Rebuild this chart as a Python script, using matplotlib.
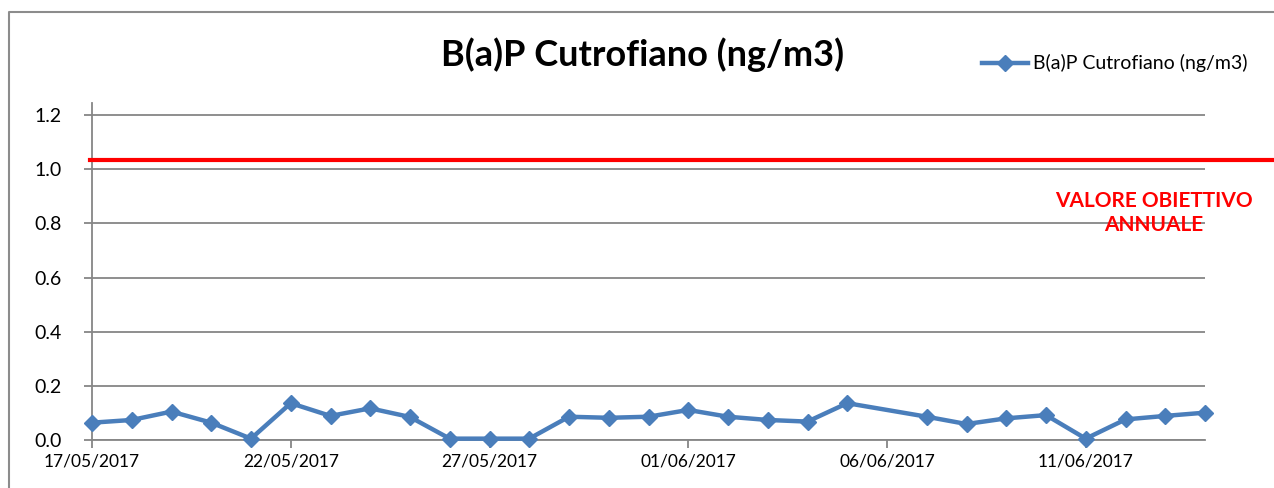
import datetime as dt
import matplotlib
matplotlib.use("Agg")
import matplotlib.pyplot as plt
import matplotlib.dates as mdates
from matplotlib.lines import Line2D

plt.rcParams['font.family'] = ['Lato', 'DejaVu Sans']

# Dati
date_str = ["17/05/2017", "18/05/2017", "19/05/2017", "20/05/2017", "21/05/2017",
            "22/05/2017", "23/05/2017", "24/05/2017", "25/05/2017", "26/05/2017",
            "27/05/2017", "28/05/2017", "29/05/2017", "30/05/2017", "31/05/2017",
            "01/06/2017", "02/06/2017", "03/06/2017", "04/06/2017", "05/06/2017",
            "07/06/2017", "08/06/2017", "09/06/2017", "10/06/2017", "11/06/2017",
            "12/06/2017", "13/06/2017", "14/06/2017"]
bap = [0.064, 0.074, 0.105, 0.064, 0.005, 0.136, 0.089, 0.117, 0.085, 0.005,
       0.005, 0.005, 0.086, 0.082, 0.086, 0.111, 0.086, 0.074, 0.068, 0.136,
       0.086, 0.059, 0.080, 0.092, 0.005, 0.076, 0.089, 0.101]
valore_obiettivo = 1.034
tick_dates = ["17/05/2017", "22/05/2017", "27/05/2017", "01/06/2017", "06/06/2017", "11/06/2017"]
y_ticks = [0.0, 0.2, 0.4, 0.6, 0.8, 1.0, 1.2]

dates = [dt.datetime.strptime(d, "%d/%m/%Y") for d in date_str]
ticks = [dt.datetime.strptime(d, "%d/%m/%Y") for d in tick_dates]

fig = plt.figure(figsize=(12.74, 4.88), dpi=100)
W, H = 1274, 488
ax = fig.add_axes([92 / W, 1 - 440 / H, (1205 - 92) / W, (440 - 103) / H])

blue = "#4a7ebb"
grid_c = "#868686"

ax.plot(dates, bap, color=blue, lw=3.2, marker="D", ms=8, zorder=3, clip_on=False,
        label="B(a)P Cutrofiano (ng/m3)")

ax.set_xlim(dates[0], dates[-1])
ax.set_ylim(0, 1.245)
ax.set_yticks(y_ticks)
ax.set_yticklabels([f"{v:.1f}" for v in y_ticks])
ax.set_xticks(ticks)
ax.xaxis.set_major_formatter(mdates.DateFormatter("%d/%m/%Y"))

ax.yaxis.grid(True, color=grid_c, lw=1.3)
ax.set_axisbelow(True)
for s in ["top", "right"]:
    ax.spines[s].set_visible(False)
for s in ["left", "bottom"]:
    ax.spines[s].set_color(grid_c)
    ax.spines[s].set_linewidth(1.3)
ax.tick_params(axis="both", color=grid_c, length=6, width=1.3, labelcolor="black")
ax.tick_params(axis="x", labelsize=12.5, pad=4)
ax.tick_params(axis="y", labelsize=14, pad=16)

# linea valore obiettivo, oltre l'area del grafico
ax.plot([dates[0] - dt.timedelta(days=0.05), dates[-1] + dt.timedelta(days=1.75)],
        [valore_obiettivo, valore_obiettivo], color="#ff0000", lw=3, clip_on=False, zorder=4)
fig.text(1154 / W, 1 - 213 / H, "VALORE OBIETTIVO\nANNUALE", color="#ff0000",
         fontsize=15, fontweight="bold", ha="center", va="center", linespacing=1.25)

fig.text(643 / W, 1 - 55 / H, "B(a)P Cutrofiano (ng/m3)", fontsize=26, fontweight="bold",
         ha="center", va="center")

# legenda
fig.add_artist(Line2D([982 / W, 1028 / W], [1 - 63 / H, 1 - 63 / H], color=blue, lw=3.2,
                      transform=fig.transFigure))
fig.add_artist(Line2D([1005 / W], [1 - 63 / H], color=blue, marker="D", ms=8, lw=0,
                      transform=fig.transFigure))
fig.text(1033 / W, 1 - 63 / H, "B(a)P Cutrofiano (ng/m3)", fontsize=14, ha="left", va="center")

# bordo dell'area del grafico
fig.add_artist(Line2D([9 / W, 9 / W, 1.0], [0.0, 1 - 12 / H, 1 - 12 / H], color="#8c8c8c",
                      lw=1.5, transform=fig.transFigure))

fig.savefig("out.png", dpi=100)
